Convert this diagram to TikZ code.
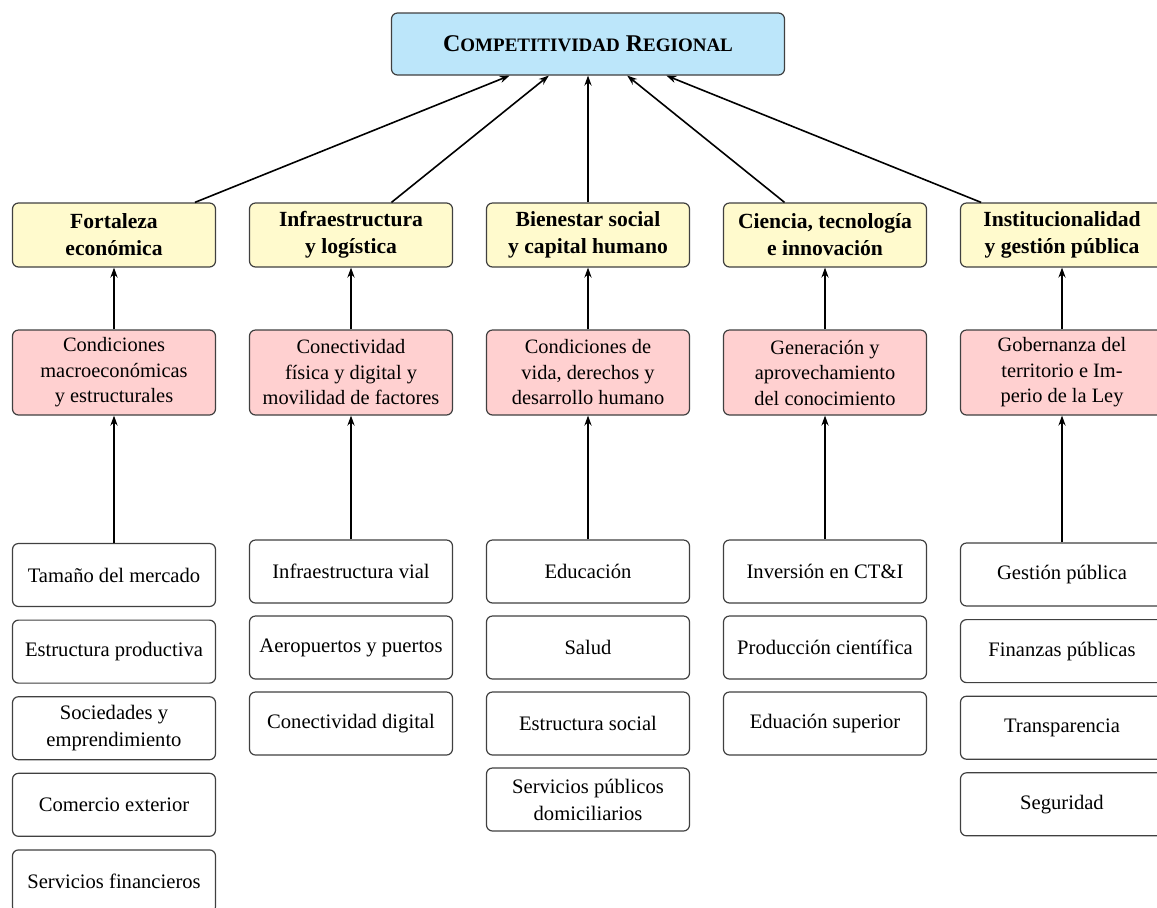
\documentclass[tikz,border=0pt]{standalone}
\usepackage{fontspec}
\setmainfont{Liberation Serif}
\usetikzlibrary{positioning,arrows.meta}

\definecolor{goalblue}{RGB}{188,230,250}
\definecolor{pillaryellow}{RGB}{255,250,205}
\definecolor{factorpink}{RGB}{255,208,208}
\newcommand{\scpart}[1]{{\fontsize{9.5}{12}\selectfont #1}}

\begin{document}
\begin{tikzpicture}[>={Stealth[length=5pt,width=3.6pt]},node distance=118.5pt,on grid,
    box/.style={draw=black!75,line width=0.6pt,rounded corners=3pt,minimum width=101.5pt,align=center,inner sep=2pt},
    goal/.style={box,fill=goalblue,minimum width=196.5pt,minimum height=31pt,font=\fontsize{12}{14}\selectfont\bfseries},
    pillar/.style={box,fill=pillaryellow,minimum height=32pt,font=\fontsize{10.8}{13.5}\selectfont\bfseries},
    factor/.style={box,fill=factorpink,minimum height=42.5pt,font=\fontsize{10.2}{12.75}\selectfont},
    indicator/.style={box,fill=white,minimum height=31.5pt,font=\fontsize{10.3}{13.5}\selectfont},
    link/.style={->,line width=0.8pt}]
    \useasboundingbox (0,0) rectangle (578.5pt,-453.5pt);
    % objetivo
    \node[goal] (cr) at (294pt,-22pt) {C\scpart{OMPETITIVIDAD} R\scpart{EGIONAL}};
    % pilares
    \node[pillar] (p3) [below=95.5pt of cr] {Bienestar social\\y capital humano};
    \node[pillar] (p2) [left=of p3] {Infraestructura\\y log\'istica};
    \node[pillar] (p1) [left=of p2] {Fortaleza\\econ\'omica};
    \node[pillar] (p4) [right=of p3] {Ciencia, tecnolog\'ia\\e innovaci\'on};
    \node[pillar] (p5) [right=of p4] {Institucionalidad\\y gesti\'on p\'ublica};
    % factores
    \node[factor] (f1) [below=68.75pt of p1] {Condiciones\\macroecon\'omicas\\y estructurales};
    \node[factor] (f2) [below=68.75pt of p2] {Conectividad\\f\'isica y digital y\\movilidad de factores};
    \node[factor] (f3) [below=68.75pt of p3] {Condiciones de\\vida, derechos y\\desarrollo humano};
    \node[factor] (f4) [below=68.75pt of p4] {Generaci\'on y\\aprovechamiento\\del conocimiento};
    \node[factor] (f5) [below=68.75pt of p5] {Gobernanza del\\territorio e Im-\\perio de la Ley};
    % indicadores
    \node[indicator] (i11) [below=101.25pt of f1] {Tama\~no del mercado};
    \node[indicator] (i12) [below=38.3pt of i11] {Estructura productiva};
    \node[indicator] (i13) [below=38.3pt of i12] {Sociedades y\\emprendimiento};
    \node[indicator] (i14) [below=38.3pt of i13] {Comercio exterior};
    \node[indicator] (i15) [below=38.3pt of i14] {Servicios financieros};
    \node[indicator] (i21) [below=99.5pt of f2] {Infraestructura vial};
    \node[indicator] (i22) [below=38pt of i21] {Aeropuertos y puertos};
    \node[indicator] (i23) [below=38pt of i22] {Conectividad digital};
    \node[indicator] (i31) [below=99.5pt of f3] {Educaci\'on};
    \node[indicator] (i32) [below=38pt of i31] {Salud};
    \node[indicator] (i33) [below=38pt of i32] {Estructura social};
    \node[indicator] (i34) [below=38pt of i33] {Servicios p\'ublicos\\domiciliarios};
    \node[indicator] (i41) [below=99.5pt of f4] {Inversi\'on en CT\&I};
    \node[indicator] (i42) [below=38pt of i41] {Producci\'on cient\'ifica};
    \node[indicator] (i43) [below=38pt of i42] {Eduaci\'on superior};
    \node[indicator] (i51) [below=101pt of f5] {Gesti\'on p\'ublica};
    \node[indicator] (i52) [below=38.3pt of i51] {Finanzas p\'ublicas};
    \node[indicator] (i53) [below=38.3pt of i52] {Transparencia};
    \node[indicator] (i54) [below=38.3pt of i53] {Seguridad};
    % conexiones
    \path[link]
    (p1) edge (cr) (p2) edge (cr) (p3) edge (cr) (p4) edge (cr) (p5) edge (cr)
    (f1) edge (p1) (f2) edge (p2) (f3) edge (p3) (f4) edge (p4) (f5) edge (p5)
    (i11) edge (f1) (i21) edge (f2) (i31) edge (f3) (i41) edge (f4) (i51) edge (f5);
\end{tikzpicture}
\end{document}
